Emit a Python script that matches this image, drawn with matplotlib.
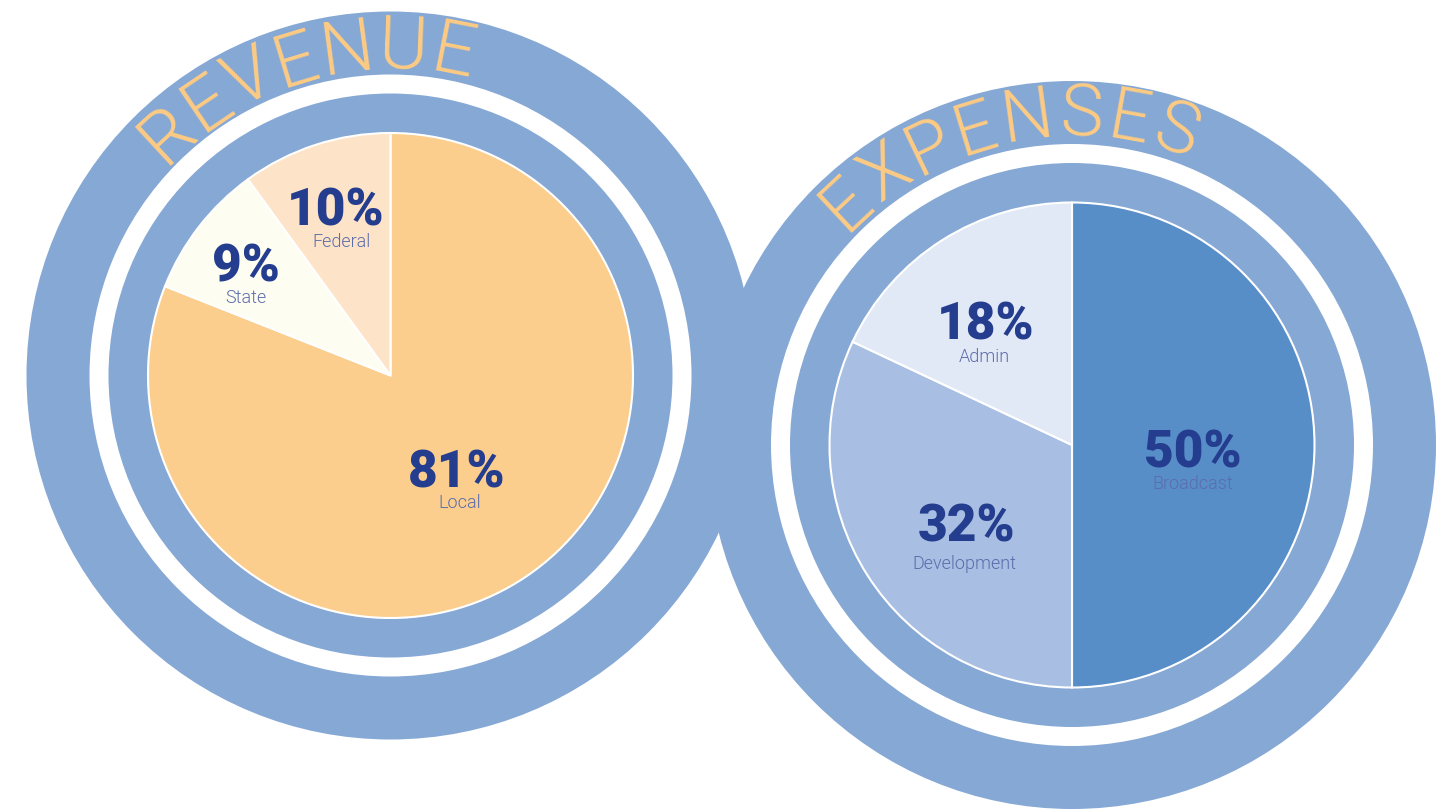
import numpy as np
import matplotlib
matplotlib.use("Agg")
import matplotlib.pyplot as plt
from matplotlib.patches import Circle
from matplotlib.font_manager import FontProperties
from matplotlib.textpath import TextToPath

# ---- data ----
rev_categories = ["Local", "State", "Federal"]
rev_values = [81, 9, 10]
exp_categories = ["Broadcast", "Development", "Admin"]
exp_values = [50, 32, 18]
titles = ["REVENUE", "EXPENSES"]

# ---- styles ----
rev_colors = ["#FBCE8E", "#FEFDF2", "#FDE3C7"]
exp_colors = ["#578EC8", "#A8BFE3", "#E2E9F6"]
ring_blue = "#86A8D5"
pct_color = "#243D8E"
lab_color = "#5D6CAB"
title_color = "#FDCB83"

W, H = 1449, 810
DPI = 100
fig = plt.figure(figsize=(W / DPI, H / DPI), dpi=DPI)
ax = fig.add_axes([0, 0, 1, 1])

centers = [(390.5, H - 375.5), (1072.0, H - 445.0)]
R_OUT, R_WHITE, R_IN, R_PIE = 364, 301, 282, 242.5

for c in centers:
    ax.add_patch(Circle(c, R_OUT, color=ring_blue, lw=0, zorder=1))
for c in centers:
    ax.add_patch(Circle(c, R_WHITE, color="white", lw=0, zorder=2))
    ax.add_patch(Circle(c, R_IN, color=ring_blue, lw=0, zorder=3))

for vals, cols, c in [(rev_values, rev_colors, centers[0]),
                      (exp_values, exp_colors, centers[1])]:
    wedges, _ = ax.pie(vals, colors=cols, startangle=90, counterclock=False,
                       center=c, radius=R_PIE,
                       wedgeprops=dict(edgecolor="white", linewidth=1.5))
    for w in wedges:
        w.set_zorder(4)

ax.set_xlim(0, W)
ax.set_ylim(0, H)
ax.set_aspect("equal")
ax.axis("off")

# ---- labels (baseline positions in image px) ----
pct_font = dict(family=["Roboto", "DejaVu Sans"], weight=900, size=37)
lab_font = dict(family=["Roboto", "DejaVu Sans"], weight=300, size=13)

rev_pct_pos = [(457, 487), (246, 282), (335.5, 225)]
rev_lab_pos = [(460, 508), (245.5, 303), (341, 247)]
exp_pct_pos = [(1192.5, 467), (967, 542), (985.5, 340)]
exp_lab_pos = [(1193, 489), (964.5, 569), (984.5, 362)]

for cats, vals, ppos, lpos in [(rev_categories, rev_values, rev_pct_pos, rev_lab_pos),
                               (exp_categories, exp_values, exp_pct_pos, exp_lab_pos)]:
    for cat, v, (px, py), (lx, ly) in zip(cats, vals, ppos, lpos):
        ax.text(px, H - py, f"{v}%", ha="center", va="baseline", color=pct_color,
                zorder=6, **pct_font)
        ax.text(lx, H - ly, cat, ha="center", va="baseline", color=lab_color,
                zorder=6, **lab_font)

# ---- curved titles ----
t2p = TextToPath()


def curved_text(s, c, r, a_start, a_end, size):
    prop = FontProperties(family=["Roboto", "DejaVu Sans"], weight=300, size=size)
    widths = []
    for ch in s:
        w, h, d = t2p.get_text_width_height_descent(ch, prop, ismath=False)
        widths.append(w * DPI / 72.0)
    widths = np.array(widths)
    total = widths.sum()
    cum = np.cumsum(widths) - widths / 2.0
    a0, a1 = np.radians(a_start), np.radians(a_end)
    for ch, cpos in zip(s, cum):
        th = a0 - (cpos / total) * (a0 - a1)
        x = c[0] + r * np.cos(th)
        y = c[1] + r * np.sin(th)
        ax.text(x, y, ch, rotation=np.degrees(th) - 90, rotation_mode="anchor",
                ha="center", va="baseline", color=title_color, fontproperties=prop,
                zorder=7)


curved_text(titles[0], centers[0], 307, 137.3, 74.8, 54)
curved_text(titles[1], centers[1], 309, 137.2, 67.2, 52)

fig.savefig("out.png", dpi=DPI)
